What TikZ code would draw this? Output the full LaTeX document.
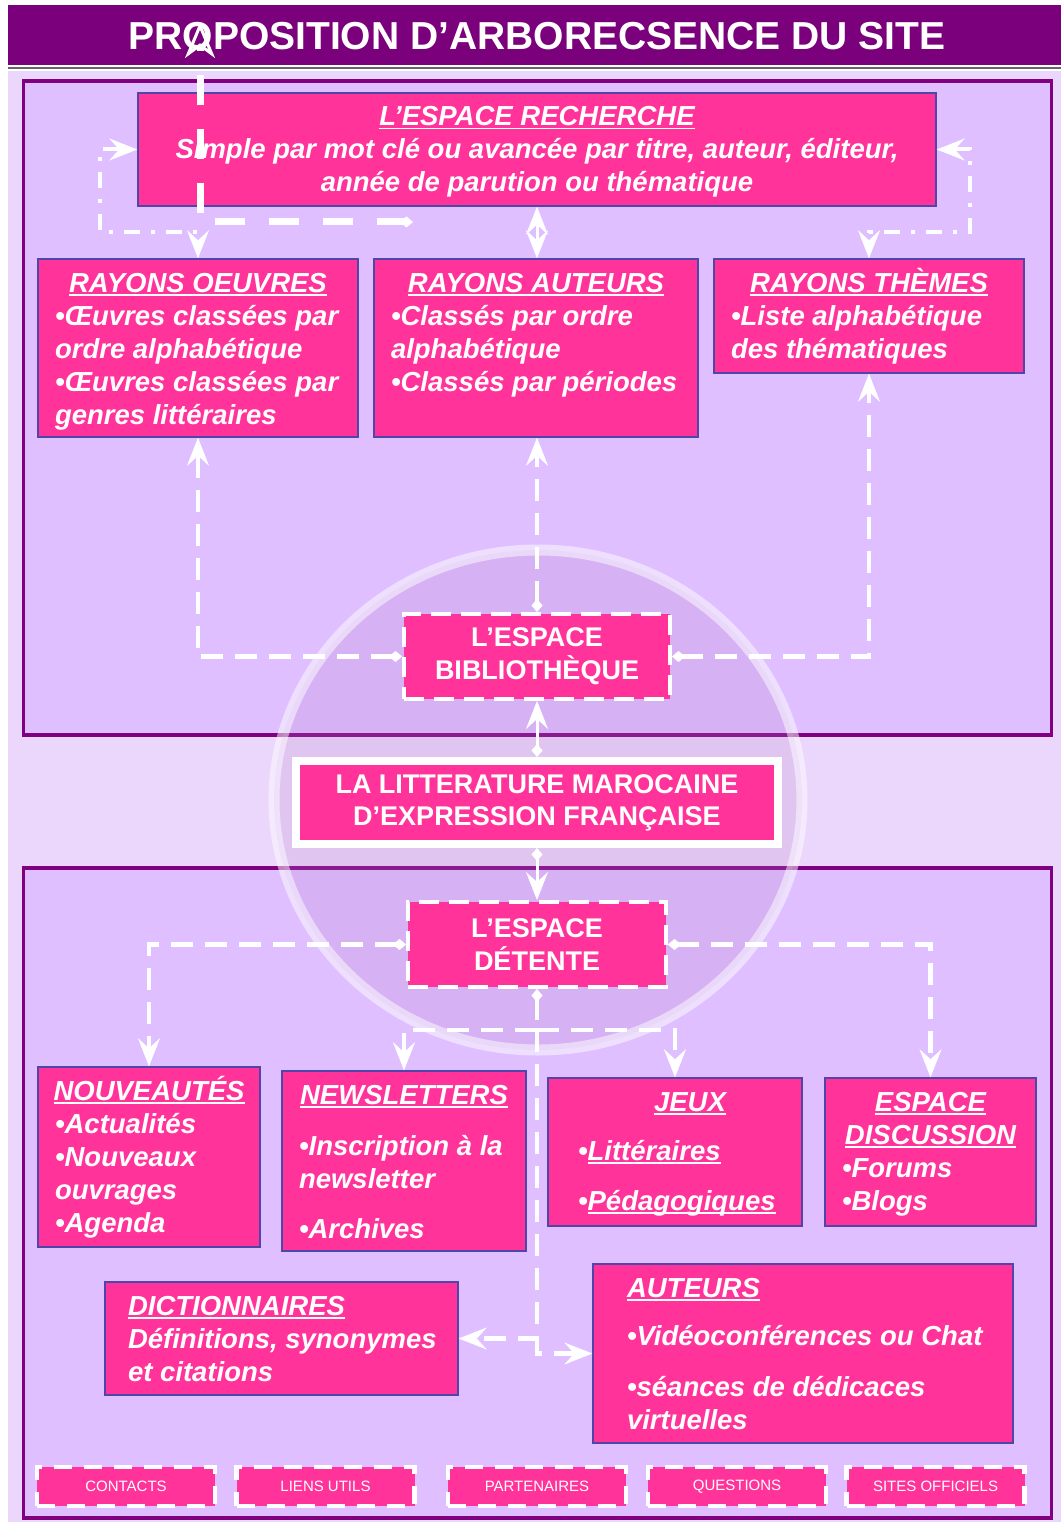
\documentclass[tikz,border=0pt]{standalone}
\usepackage{fontspec}
\setmainfont{Liberation Sans}
\usepackage{xcolor}
\usepackage{tikz}
\usetikzlibrary{positioning}
\usetikzlibrary{arrows.meta}
\usetikzlibrary{calc}

\definecolor{titrebg}{RGB}{123,0,123}
\definecolor{cadre}{RGB}{128,0,128}
\definecolor{panneau}{RGB}{223,191,255}
\definecolor{bande}{RGB}{235,214,252}
\definecolor{rose}{RGB}{255,51,153}
\definecolor{bord}{RGB}{80,70,170}
\definecolor{cercle}{RGB}{180,130,200}

\newcommand{\souligne}[1]{\setbox0\hbox{#1}\rlap{\rule[-3.5pt]{\wd0}{1.6pt}}\box0}
\newcommand{\pane}[4]{\parbox[c][#2][t]{#1}{\raggedright\leftskip=#3\relax #4}}
\newcommand{\ttl}[1]{\centerline{\rule{0pt}{33pt}\souligne{#1}}}
\newcommand{\ltl}[1]{\rule{0pt}{33pt}\souligne{#1}\par}

\tikzset{
  rbox/.style={draw=bord, line width=1.5pt, fill=rose, text=white, inner sep=0pt,
    font=\fontsize{27.5}{33}\selectfont\bfseries\itshape},
  dbox/.style={draw=white, line width=4pt, dash pattern=on 20pt off 10pt, fill=rose,
    text=white, inner sep=0pt, align=center, font=\fontsize{27}{33}\selectfont\bfseries},
  sbox/.style={draw=white, line width=4.5pt, dash pattern=on 18pt off 12pt, fill=rose,
    text=white, inner sep=0pt, minimum width=178pt, minimum height=39pt,
    font=\fontsize{15}{18}\selectfont},
  lien/.style={draw=white, line width=4.5pt, dash pattern=on 22pt off 12pt},
  lienpt/.style={draw=white, line width=4pt, dash pattern=on 16pt off 11pt on 4pt off 11pt},
  plein/.style={draw=white, line width=3pt},
  fleche/.tip={Stealth[length=28pt, width=22pt, inset=10pt, line width=0.5pt]},
  losange/.tip={Diamond[length=13pt, width=11pt, line width=0.5pt]}
}

\begin{document}
\begin{tikzpicture}[x=1pt, y=-1pt]
		\useasboundingbox (0,0) rectangle (1061,1522);
		\fill[white] (0,0) rectangle (1061,1522);

		% Fond, bandeau du titre et les deux espaces
		\fill[bande] (8,71) rectangle (1061,1522);
		\fill[titrebg] (8,5) rectangle (1061,65);
		\draw[black!60, line width=2pt] (8,68) -- (1061,68);
		\node[text=white, font=\fontsize{39}{44}\selectfont\bfseries] (titre) at (537,36)
			{PROPOSITION D’ARBORECSENCE DU SITE};
		\filldraw[draw=cadre, fill=panneau, line width=3.5pt] (23.5,81) rectangle (1051.5,735);
		\filldraw[draw=cadre, fill=panneau, line width=3.5pt] (23.5,868) rectangle (1051.5,1518);

		% Le grand cercle au centre
		\draw[white, line width=11pt, draw opacity=0.5, fill=cercle, fill opacity=0.2]
			(538,800) ellipse [x radius=264, y radius=250];

		% Espace bibliotheque
		\node[rbox] (rech) at (537,149.5) {\pane{798pt}{113pt}{0pt}{\centering\ttl{L’ESPACE RECHERCHE}%
			Simple par mot clé ou avancée par titre, auteur, éditeur,\\année de parution ou thématique}};
		\node[rbox] (oeuv) at (198,348) {\pane{320pt}{178pt}{17pt}{\ttl{RAYONS OEUVRES}%
			•Œuvres classées par\\ordre alphabétique\\•Œuvres classées par\\genres littéraires}};
		\node[rbox] (aut) at (536,348) {\pane{324pt}{178pt}{17pt}{\ttl{RAYONS AUTEURS}%
			•Classés par ordre\\alphabétique\\•Classés par périodes}};
		\node[rbox] (them) at (869,316) {\pane{310pt}{114pt}{17pt}{\ttl{RAYONS THÈMES}%
			•Liste alphabétique\\des thématiques}};
		\node[dbox, minimum width=266pt, minimum height=85pt] (bib) at (537,656.5)
			{L’ESPACE\\BIBLIOTHÈQUE};

		% Noeud central
		\node[draw=white, line width=8pt, fill=rose, text=white, align=center, inner sep=0pt,
			minimum width=482pt, minimum height=83pt,
			font=\fontsize{27}{32}\selectfont\bfseries] (litt) at (537,802.5)
			{LA LITTERATURE MAROCAINE\\D’EXPRESSION FRANÇAISE};

		% Espace detente
		\node[dbox, minimum width=258pt, minimum height=85pt] (det) at (537,944.5)
			{L’ESPACE\\DÉTENTE};
		\node[rbox] (nouv) at (149,1157) {\pane{222pt}{180pt}{17pt}{\ttl{NOUVEAUTÉS}%
			•Actualités\\•Nouveaux\\ouvrages\\•Agenda}};
		\node[rbox] (news) at (404,1161) {\pane{244pt}{180pt}{17pt}{\ttl{NEWSLETTERS}%
			\vspace{18pt}•Inscription à la\\newsletter\par\vspace{17pt}•Archives}};
		\node[rbox] (jeux) at (675,1152) {\pane{254pt}{148pt}{30pt}{%
			\centerline{\hspace{30pt}\rule{0pt}{33pt}\souligne{JEUX}}%
			\vspace{16pt}•\souligne{Littéraires}\par\vspace{17pt}•\souligne{Pédagogiques}}};
		\node[rbox] (disc) at (930.5,1152) {\pane{211pt}{148pt}{17pt}{\ttl{ESPACE}%
			\centerline{\souligne{DISCUSSION}}•Forums\\•Blogs}};
		\node[rbox] (dict) at (281.5,1338.5) {\pane{353pt}{113pt}{23pt}{\ltl{DICTIONNAIRES}%
			Définitions, synonymes\\et citations}};
		\node[rbox] (aut2) at (803,1353.5) {\pane{420pt}{179pt}{34pt}{\ltl{AUTEURS}%
			\vspace{15pt}•Vidéoconférences ou Chat\par\vspace{18pt}•séances de dédicaces\\virtuelles}};

		% Liens du bas de page
		\foreach \n/\x/\t in {contacts/126/CONTACTS, liens/325.5/LIENS UTILS,
				partenaires/537/PARTENAIRES, questions/737/QUESTIONS, sites/935.5/SITES OFFICIELS} {
				\node[sbox] (\n) at (\x,1486.5) {\t};
			}

		% Connecteurs
		\draw[lienpt, fleche-fleche] (rech.west) -| (100,232) -| (oeuv.north);
		\draw[lienpt, fleche-fleche] (rech.east) -| (970,232) -| (them.north);
		\draw[plein, fleche-fleche] (rech.south) -- (rech.south |- aut.north);
		\draw[lien, losange-fleche] (bib.west) -| (oeuv.south);
		\draw[lien, losange-fleche] (bib.north) -- (bib.north |- aut.south);
		\draw[lien, losange-fleche] (bib.east) -| (them.south);
		\draw[plein, losange-fleche] (litt.north) -- (bib.south);
		\draw[plein, losange-fleche] (litt.south) -- (det.north);

		\coordinate (split) at (537,1030);
		\draw[lien, losange-fleche] (det.west) -| (nouv.north);
		\draw[lien, losange-fleche] (det.east) -| (disc.north);
		\draw[lien, losange-] (det.south) -- (split);
		\draw[lien, -fleche] (split) -| (news.north);
		\draw[lien, -fleche] (split) -| (jeux.north);
		\draw[lien, -fleche] (split) |- (dict.east);
		\draw[lien, -fleche] (split) |- (aut2.west);

		% Connecteur egare sur le titre
		\coordinate (depart) at (413,222);
		\coordinate (pointe) at (200,22);
		\draw[lien, line width=7pt, dash pattern=on 30pt off 24pt,
			losange-{Stealth[open, length=36pt, width=30pt, inset=11pt, line width=3pt]}] (depart) -| (pointe);
	\end{tikzpicture}
\end{document}
